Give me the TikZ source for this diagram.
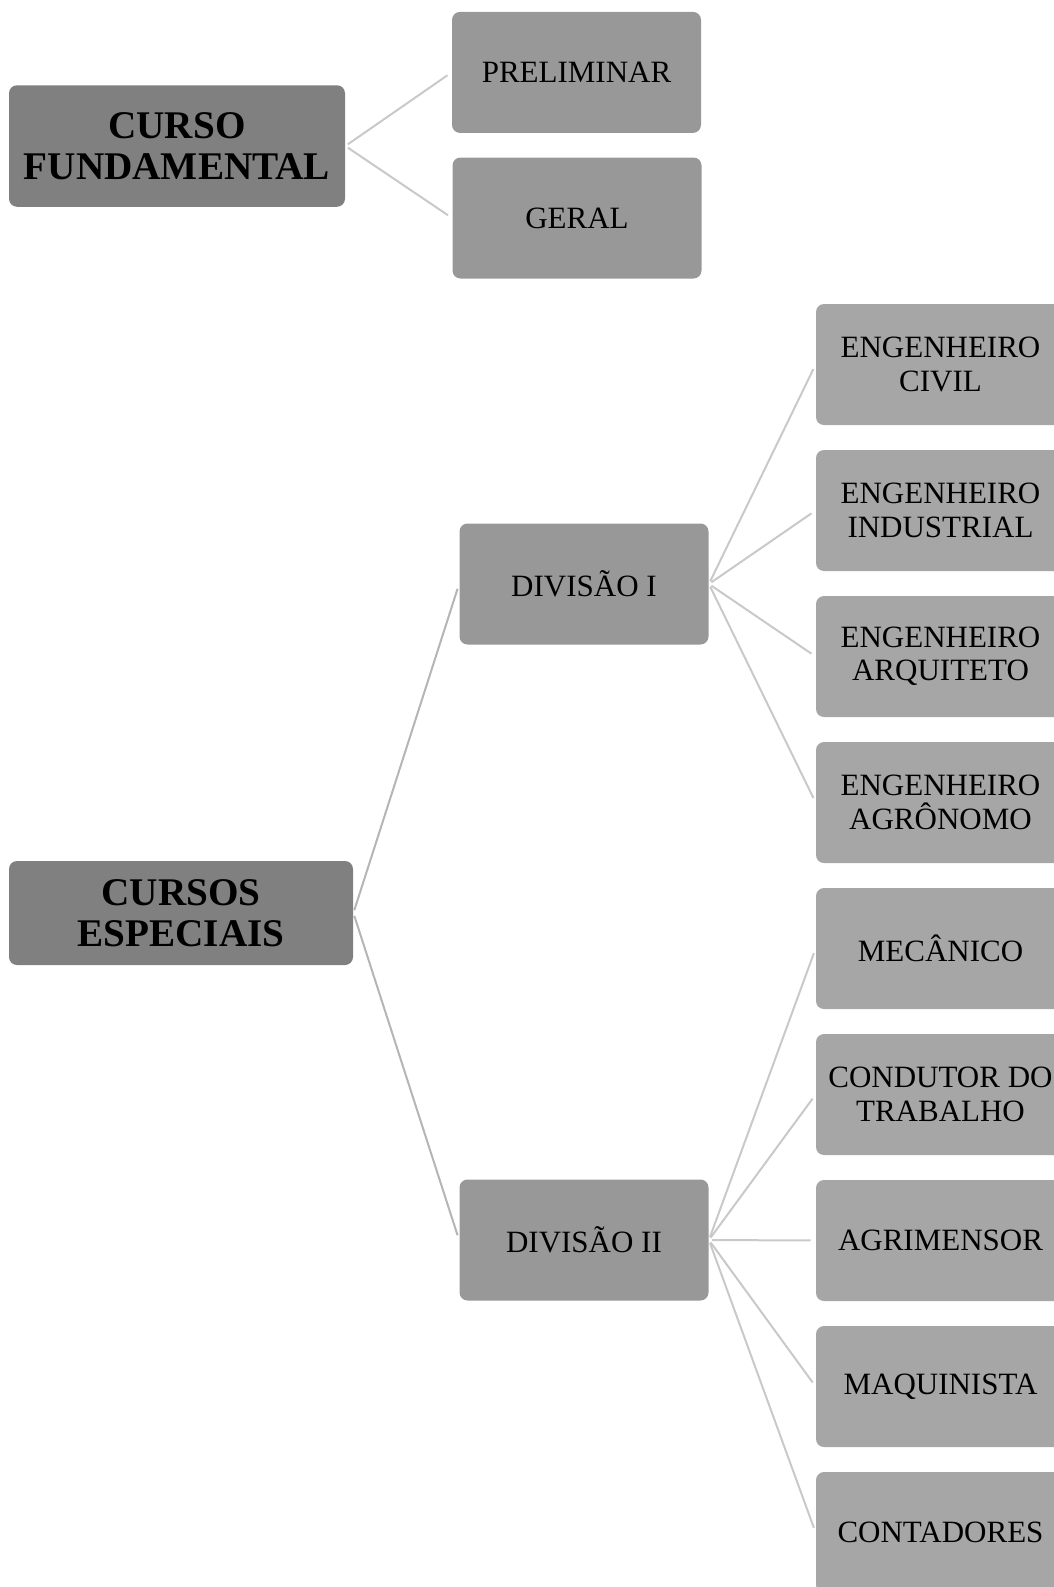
\documentclass[tikz,border=0pt]{standalone}
\usepackage{fontspec}
\setmainfont{Liberation Serif}
\usetikzlibrary{positioning}
\definecolor{ocTop}{HTML}{808080}
\definecolor{ocMid}{HTML}{989898}
\definecolor{ocLeaf}{HTML}{A6A6A6}
\definecolor{ocLink}{HTML}{C9C9C9}
\definecolor{ocLinkDark}{HTML}{B5B5B5}
\tikzset{
  ocnode/.style={
    rounded corners=4pt, minimum width=124.5pt, minimum height=60.5pt,
    align=center, inner sep=2pt, font=\fontsize{15.5}{16.7}\selectfont
  },
  topbox/.style={ocnode, fill=ocTop, font=\fontsize{19.6}{20.3}\selectfont\bfseries},
  midbox/.style={ocnode, fill=ocMid},
  leafbox/.style={ocnode, fill=ocLeaf},
  link/.style={line width=1pt, ocLink, shorten <=1.5pt, shorten >=2.5pt},
  linkdark/.style={link, ocLinkDark}
}
\begin{document}
\begin{tikzpicture}[x=0.5pt, y=-0.5pt, node distance=12.1pt]
  \useasboundingbox (0,0) rectangle (1054,1587);
  % curso fundamental
  \node[topbox, minimum width=168pt, minimum height=60.75pt] (cf) at (177,146) {CURSO\\FUNDAMENTAL};
  \node[midbox] (prelim) at (576.5,72.4) {PRELIMINAR};
  \node[midbox] (geral) at (577,218) {GERAL};
  \draw[link] (cf.east) -- (prelim.west);
  \draw[link] (cf.east) -- (geral.west);
  % cursos especiais
  \node[topbox, minimum width=172pt, minimum height=52pt] (ce) at (181,913) {CURSOS\\ESPECIAIS};
  \node[midbox] (div1) at (584,584) {DIVISÃO I};
  \node[midbox] (div2) at (584,1240) {DIVISÃO II};
  \draw[linkdark] (ce.east) -- (div1.west);
  \draw[linkdark] (ce.east) -- (div2.west);
  % leaves
  \node[leafbox] (civil) at (940.5,364.5) {ENGENHEIRO\\CIVIL};
  \node[leafbox, below=of civil] (indus) {ENGENHEIRO\\INDUSTRIAL};
  \node[leafbox, below=of indus] (arq) {ENGENHEIRO\\ARQUITETO};
  \node[leafbox, below=of arq] (agron) {ENGENHEIRO\\AGRÔNOMO};
  \node[leafbox, below=of agron] (mec) {MECÂNICO};
  \node[leafbox, below=of mec] (cond) {CONDUTOR DO\\TRABALHO};
  \node[leafbox, below=of cond] (agrim) {AGRIMENSOR};
  \node[leafbox, below=of agrim] (maq) {MAQUINISTA};
  \node[leafbox, below=of maq] (cont) {CONTADORES};
  \foreach \leaf in {civil, indus, arq, agron}
    \draw[link] (div1.east) -- (\leaf.west);
  \foreach \leaf in {mec, cond, agrim, maq, cont}
    \draw[link] (div2.east) -- (\leaf.west);
\end{tikzpicture}
\end{document}
